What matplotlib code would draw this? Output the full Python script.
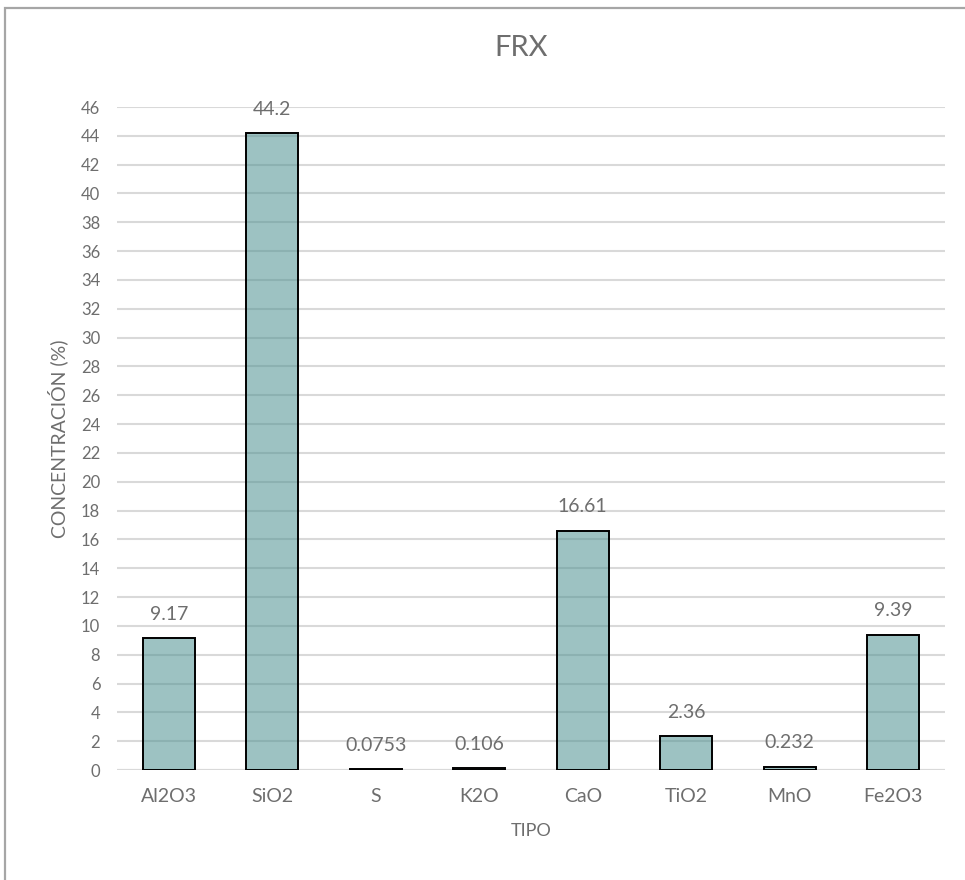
import matplotlib
matplotlib.use('Agg')
import matplotlib.pyplot as plt
from matplotlib.patches import Rectangle
from matplotlib.colors import to_rgba

# data
categories = ['Al2O3', 'SiO2', 'S', 'K2O', 'CaO', 'TiO2', 'MnO', 'Fe2O3']
values = [9.17, 44.2, 0.0753, 0.106, 16.61, 2.36, 0.232, 9.39]
value_labels = ['9.17', '44.2', '0.0753', '0.106', '16.61', '2.36', '0.232', '9.39']
y_ticks = list(range(0, 47, 2))

TEXT = '#6E6E6E'
GRID = '#D9D9D9'

plt.rcParams['font.family'] = ['Lato', 'DejaVu Sans']

fig = plt.figure(figsize=(9.65, 8.8), dpi=100)
ax = fig.add_axes([0.1212, 0.125, 0.8581, 0.7534])

# chart border (Excel chart area)
fig.patches.append(Rectangle((0.0052, -0.05), 1.2, 0.991 + 0.05, transform=fig.transFigure,
                             fill=False, edgecolor='#A6A6A6', linewidth=1.6))

x = range(len(categories))
ax.bar(x, values, width=0.5, facecolor=to_rgba('#4D9090', 0.55),
       edgecolor='black', linewidth=1.4, zorder=3)

for i, (v, lab) in enumerate(zip(values, value_labels)):
    ax.annotate(lab, (i, v), xytext=(0, 11), textcoords='offset points',
                ha='center', va='bottom', fontsize=14, color=TEXT)

ax.set_xlim(-0.5, len(categories) - 0.5)
ax.set_ylim(0, 46)
ax.set_yticks(y_ticks)
ax.set_xticks(list(x))
ax.set_xticklabels(categories)
ax.tick_params(axis='y', length=0, labelsize=12, labelcolor=TEXT, pad=12)
ax.tick_params(axis='x', length=0, labelsize=14, labelcolor=TEXT, pad=13)
ax.yaxis.grid(True, color=GRID, linewidth=1.5, zorder=0)
ax.set_axisbelow(True)
for s in ax.spines.values():
    s.set_visible(False)
ax.axhline(0, color=GRID, linewidth=1.5, zorder=1)

ax.set_xlabel('TIPO', fontsize=13, color=TEXT, labelpad=13)
ax.set_ylabel('CONCENTRACIÓN (%)', fontsize=14, color=TEXT, labelpad=9)
fig.text(0.5405, 0.945, 'FRX', ha='center', va='center', fontsize=21, color=TEXT)

fig.savefig('out.png', dpi=100)
